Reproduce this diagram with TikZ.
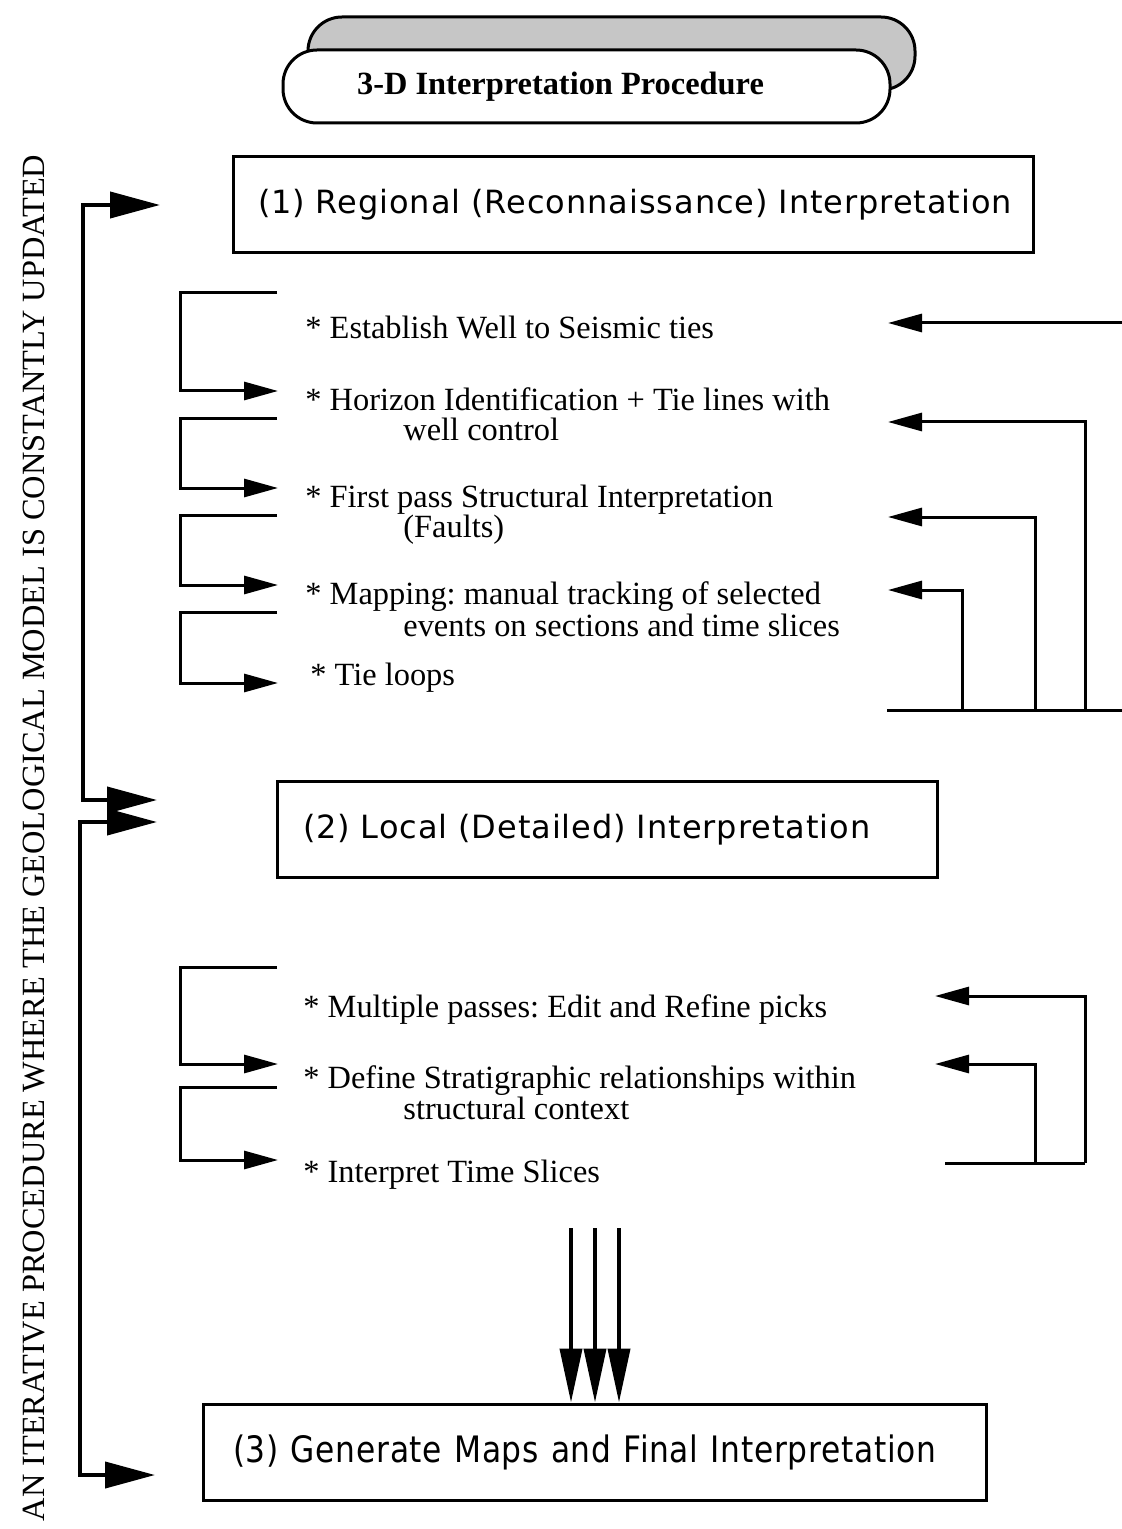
\documentclass[tikz,border=0pt]{standalone}
\usepackage{fontspec}
\setmainfont{Liberation Serif}
\newfontfamily\boxfont[LetterSpace=3]{DejaVu Sans}
\newfontfamily\boxfontc[FakeStretch=0.86,LetterSpace=2]{DejaVu Sans}
\usetikzlibrary{arrows.meta,shadows}
\frenchspacing

\tikzset{
  wire/.style={line width=1.5pt},
  smallarr/.style={wire, -{Triangle[length=17pt,width=9pt]}},
  bigarr/.style={line width=2pt, {Triangle[length=25pt,width=13pt]}-{Triangle[length=25pt,width=13pt]}},
  downarr/.style={line width=2pt, -{Triangle[length=27pt,width=11pt]}},
  stagebox/.style={draw, line width=1.5pt, minimum height=48pt, inner ysep=0pt, align=left,
    font=\boxfont\fontsize{16}{19}\selectfont},
  titlebox/.style={draw, line width=1.5pt, fill=white, rounded corners=17pt,
    minimum width=303.5pt, minimum height=36.5pt,
    font=\bfseries\fontsize{16.2}{19}\selectfont,
    general shadow={shadow xshift=12.5pt, shadow yshift=16.5pt, fill=gray!45, draw, line width=1.5pt}},
  item/.style={anchor=base west, inner sep=0pt, font=\fontsize{16.2}{19}\selectfont},
  sidetext/.style={inner sep=0pt, font=\fontsize{16.2}{19}\selectfont},
}

\begin{document}
\begin{tikzpicture}[x=0.5pt,y=-0.5pt]
\useasboundingbox (0,0) rectangle (1122,1529);

% heading banner
\node[titlebox] (title) at (586.5,86.5) {\hspace*{-26pt}3-D Interpretation Procedure};

% the three stages
\node[stagebox, text width=375pt, inner xsep=12.5pt] (s1) at (633,205)
  {(1) Regional (Reconnaissance) Interpretation};
\node[stagebox, text width=304pt, inner xsep=13pt] (s2) at (607,829.5)
  {(2) Local (Detailed) Interpretation};
\node[stagebox, text width=361.5pt, inner xsep=15pt, font=\boxfontc\fontsize{18.2}{21}\selectfont] (s3) at (594.5,1452)
  {(3) Generate Maps and Final Interpretation};

% steps of stage 1
\node[item] (a1)  at (305,339) {* Establish Well to Seismic ties};
\node[item] (a2)  at (305,411) {* Horizon Identification + Tie lines with};
\node[item] (a2b) at (403,441) {well control};
\node[item] (a3)  at (305,507) {* First pass Structural Interpretation};
\node[item] (a3b) at (403,537) {(Faults)};
\node[item] (a4)  at (305,604) {* Mapping: manual tracking of selected};
\node[item] (a4b) at (403,636) {events on sections and time slices};
\node[item] (a5)  at (310,685) {* Tie loops};

% steps of stage 2
\node[item] (b1)  at (303,1017) {* Multiple passes: Edit and Refine picks};
\node[item] (b2)  at (303,1088) {* Define Stratigraphic relationships within};
\node[item] (b2b) at (403,1119) {structural context};
\node[item] (b3)  at (303,1182) {* Interpret Time Slices};

% side caption
\node[sidetext, rotate=90] (side) at (34,838)
  {AN ITERATIVE PROCEDURE WHERE THE GEOLOGICAL MODEL IS CONSTANTLY UPDATED};

% left step-to-step brackets
\coordinate (lx) at (180,0);
\coordinate (p1) at (277,293);  \coordinate (q1) at (278,391);
\coordinate (p2) at (277,419);  \coordinate (q2) at (278,488);
\coordinate (p3) at (277,515);  \coordinate (q3) at (278,585);
\coordinate (p4) at (277,612);  \coordinate (q4) at (278,683);
\coordinate (p5) at (277,967);  \coordinate (q5) at (278,1064);
\coordinate (p6) at (277,1087); \coordinate (q6) at (278,1160);
\foreach \k in {1,...,6}
  \draw[smallarr] (p\k) -- (p\k -| lx) |- (q\k);

% right feedback lines, stage 1
\coordinate (r0) at (1122,323);  \coordinate (rt1) at (888,323);
\coordinate (rt2) at (888,422);  \coordinate (rt3) at (888,517);
\coordinate (rt4) at (888,590);
\coordinate (c2) at (1085,710);  \coordinate (c3) at (1035,710);
\coordinate (c4) at (962,710);
\coordinate (base1) at (887,710); \coordinate (edge1) at (1122,710);
\draw[smallarr] (r0) -- (rt1);
\draw[wire] (base1) -- (edge1);
\draw[smallarr] (c2) |- (rt2);
\draw[smallarr] (c3) |- (rt3);
\draw[smallarr] (c4) |- (rt4);

% right feedback lines, stage 2
\coordinate (rt5) at (935,996);  \coordinate (rt6) at (935,1064);
\coordinate (c5) at (1085,1163); \coordinate (c6) at (1035,1163);
\coordinate (base2) at (945,1163);
\draw[wire] (base2) -- (c5);
\draw[smallarr] (c5) |- (rt5);
\draw[smallarr] (c6) |- (rt6);

% triple arrow into stage 3
\coordinate (d1) at (571,1228); \coordinate (d2) at (595,1228); \coordinate (d3) at (619,1228);
\foreach \k in {1,2,3}
  \draw[downarr] (d\k) -- (d\k |- s3.north);

% iteration loops on the left
\coordinate (lx1) at (83,0); \coordinate (lx2) at (80,0);
\coordinate (la1) at (160,205);  \coordinate (la2) at (157,800);
\coordinate (lb1) at (157,822);  \coordinate (lb2) at (155,1475);
\draw[bigarr] (la1) -- (la1 -| lx1) -- (la2 -| lx1) -- (la2);
\draw[bigarr] (lb1) -- (lb1 -| lx2) -- (lb2 -| lx2) -- (lb2);
\end{tikzpicture}
\end{document}
